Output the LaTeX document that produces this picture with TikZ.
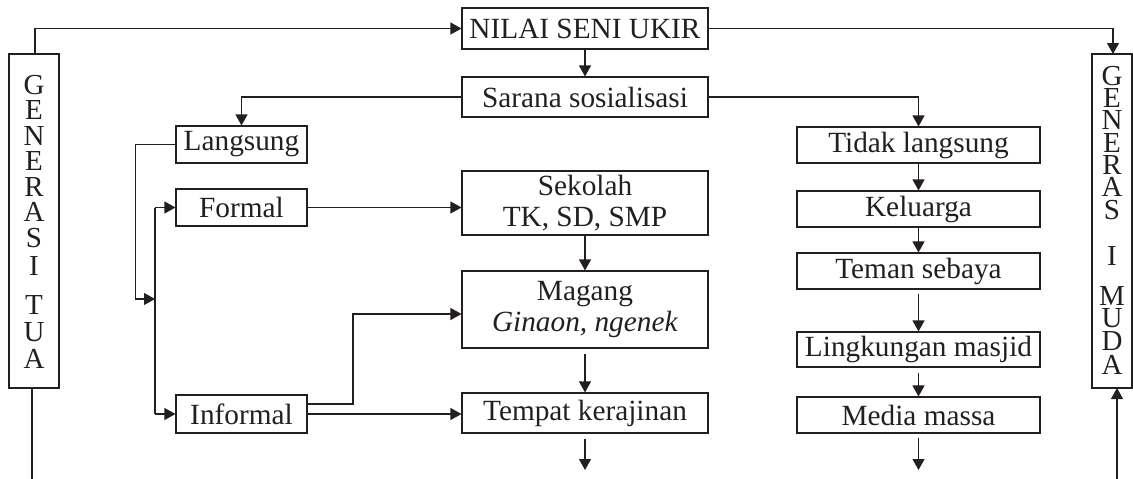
\documentclass[tikz,border=0pt]{standalone}
\usepackage{fontspec}
\setmainfont{Liberation Serif}
\usetikzlibrary{arrows.meta,calc}
\definecolor{ink}{HTML}{231F20}
\begin{document}
\begin{tikzpicture}[x=1pt,y=-1pt,
  line width=1.1pt, draw=ink, text=ink,
  every node/.style={font=\fontsize{29.3}{31}\selectfont, inner sep=0pt},
  box/.style={draw=ink, line width=1.1pt, minimum width=246pt, align=center},
  sbox/.style={draw=ink, line width=1.1pt, minimum width=131pt, minimum height=37pt},
  rbox/.style={draw=ink, line width=1.1pt, minimum width=243pt, minimum height=36pt},
  vbox/.style={draw=ink, line width=1.1pt},
  arr/.style={-{Triangle[length=11pt,width=12pt]}, line width=1.1pt},
  plain/.style={line width=1.1pt}]
\useasboundingbox (0,0) rectangle (1133,479);

% central column
\node[box, minimum height=41pt] (nilai) at (585,28.5) {NILAI SENI UKIR};
\node[box, minimum height=40pt] (sarana) at (585,97) {Sarana sosialisasi};
\node[box, minimum height=64pt] (sekolah) at (585,203) {Sekolah\\TK, SD, SMP};
\node[box, minimum height=77pt] (magang) at (585,309.5) {Magang\\\textit{Ginaon, ngenek}};
\node[box, minimum height=40pt] (tempat) at (585,413) {Tempat kerajinan};

% left column
\node[sbox] (langsung) at (241.5,144.5) {Langsung};
\node[sbox] (formal) at (241.5,207.5) {Formal};
\node[sbox, minimum height=38pt] (informal) at (241.5,414) {Informal};

% right column
\node[rbox] (tidak) at (918.5,145) {Tidak langsung};
\node[rbox] (keluarga) at (918.5,209) {Keluarga};
\node[rbox] (teman) at (918.5,271) {Teman sebaya};
\node[rbox, minimum height=35pt] (lingkungan) at (918.5,349.5) {Lingkungan masjid};
\node[rbox] (media) at (918.5,415) {Media massa};

% generation boxes
\node[vbox, minimum width=50pt, minimum height=334pt] (tua) at (34,221) {};
\node[vbox, minimum width=40pt, minimum height=334pt] (muda) at (1112,221) {};
\node[anchor=north, align=center, font=\fontsize{29}{25.5}\selectfont] (tuatext) at (34,74.5)
  {G\\E\\N\\E\\R\\A\\S\\[3pt]I\\[13.5pt]T\\[1.5pt]U\\[1.5pt]A};
\node[anchor=north, align=center, font=\fontsize{29}{22.3}\selectfont] (mudatext) at (1112,65.5)
  {G\\E\\N\\E\\R\\A\\S\\[24pt]I\\[18pt]M\\U\\D\\[1.5pt]A};

% helper coordinates
\coordinate (tuatop) at (35,54);
\coordinate (mudatop) at (1113,54);
\coordinate (tuabot) at (32,479);
\coordinate (mudabot) at (1117,479);
\coordinate (mudain) at (1117,388);
\coordinate (bustop) at (155,207.5);
\coordinate (busbot) at (155,414);
\coordinate (busmid) at (155,299);
\coordinate (mag1) at (353,404);
\coordinate (tend) at (585,470);
\coordinate (rend) at (918.5,470);

% top connectors
\draw[arr] (tuatop) |- (nilai.west);
\draw[arr] (nilai.east) -| (mudatop);
\draw[arr] (nilai.south) -- (sarana.north);
\draw[arr] (sarana.west) -| (langsung.north);
\draw[arr] (sarana.east) -| (tidak.north);

% generation lines
\draw[plain] (tua.south -| tuabot) -- (tuabot);
\draw[arr] (mudabot) -- (mudain);

% left bus
\draw[arr] (langsung.west) -- ++(-40,0) |- (busmid);
\draw[plain] (bustop) -- (busbot);
\draw[arr] (bustop) -- (formal.west);
\draw[arr] (busbot) -- (informal.west);

% left to centre
\draw[arr] (formal.east) -- (formal.east -| sekolah.west);
\draw[arr] ($(informal.east)+(0,-10)$) -| (mag1) |- (magang.west |- 0,314);
\draw[arr] (informal.east) -- (informal.east -| tempat.west);

% centre column arrows
\draw[arr] (sekolah.south) -- (magang.north);
\draw[arr] ($(magang.south)+(0,5)$) -- (tempat.north);
\draw[arr] ($(tempat.south)+(0,5)$) -- (tend);

% right column arrows
\draw[arr] (tidak.south) -- (keluarga.north);
\draw[arr] (keluarga.south) -- (teman.north);
\draw[arr] ($(teman.south)+(0,4)$) -- (lingkungan.north);
\draw[arr] ($(lingkungan.south)+(0,5)$) -- (media.north);
\draw[arr] ($(media.south)+(0,4)$) -- (rend);
\end{tikzpicture}
\end{document}
